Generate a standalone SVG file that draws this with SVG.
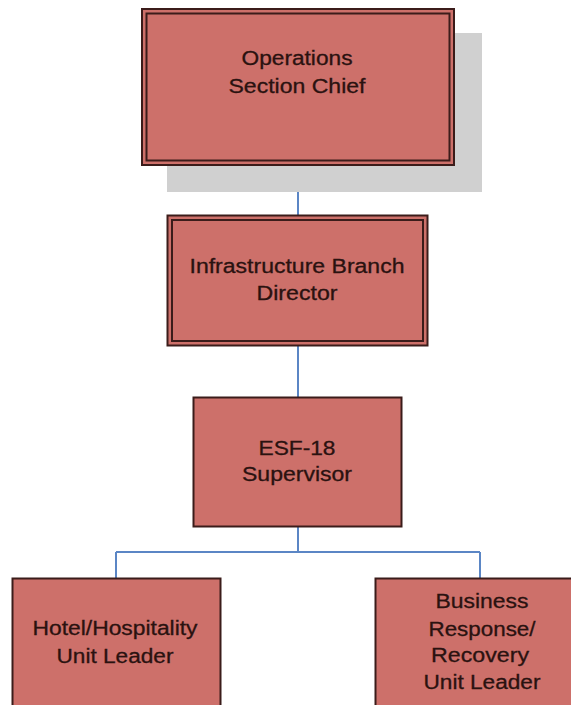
<svg xmlns="http://www.w3.org/2000/svg" width="571" height="705" viewBox="0 0 571 705">
<style>
.box{fill:#cd706a;stroke:#3b1c1a;stroke-width:2}
.inner{fill:none;stroke:#3b1c1a;stroke-width:2}
.lbl{font-family:"Liberation Sans",Arial,sans-serif;font-size:20px;fill:#2a1210;stroke:#2a1210;stroke-width:0.3;text-anchor:middle}
.conn{fill:none;stroke:#5b86c5;stroke-width:2}
</style>
<rect width="571" height="705" fill="#ffffff"/>
<g id="connectors">
<path class="conn" d="M298,165 V215 M298,346 V397 M298,527 V552 M116,552 H480 M116,552 V578 M480,552 V578"/>
</g>
<g id="ops">
<rect x="167" y="33" width="315" height="159" fill="#d0d0d0"/>
<rect class="box" x="142" y="9" width="312" height="156"/>
<rect class="inner" x="146.5" y="13.5" width="303" height="147"/>
<text class="lbl" x="297" y="65" textLength="111" lengthAdjust="spacingAndGlyphs">Operations</text>
<text class="lbl" x="297" y="93" textLength="137" lengthAdjust="spacingAndGlyphs">Section Chief</text>
</g>
<g id="infra">
<rect class="box" x="167.5" y="215.5" width="260" height="130"/>
<rect class="inner" x="172" y="220" width="251" height="121"/>
<text class="lbl" x="297" y="273" textLength="215" lengthAdjust="spacingAndGlyphs">Infrastructure Branch</text>
<text class="lbl" x="297" y="300" textLength="81" lengthAdjust="spacingAndGlyphs">Director</text>
</g>
<g id="esf">
<rect class="box" x="193.5" y="397.5" width="208" height="129"/>
<text class="lbl" x="297" y="455" textLength="77" lengthAdjust="spacingAndGlyphs">ESF-18</text>
<text class="lbl" x="297" y="481" textLength="110" lengthAdjust="spacingAndGlyphs">Supervisor</text>
</g>
<g id="hotel">
<rect class="box" x="12.5" y="578.5" width="208" height="140"/>
<text class="lbl" x="115" y="635" textLength="165" lengthAdjust="spacingAndGlyphs">Hotel/Hospitality</text>
<text class="lbl" x="115" y="663" textLength="117" lengthAdjust="spacingAndGlyphs">Unit Leader</text>
</g>
<g id="business">
<rect class="box" x="375.5" y="578.5" width="215" height="140"/>
<text class="lbl" x="482" y="608" textLength="93" lengthAdjust="spacingAndGlyphs">Business</text>
<text class="lbl" x="482" y="636" textLength="107" lengthAdjust="spacingAndGlyphs">Response/</text>
<text class="lbl" x="480" y="662" textLength="98" lengthAdjust="spacingAndGlyphs">Recovery</text>
<text class="lbl" x="482" y="689" textLength="117" lengthAdjust="spacingAndGlyphs">Unit Leader</text>
</g>
</svg>
